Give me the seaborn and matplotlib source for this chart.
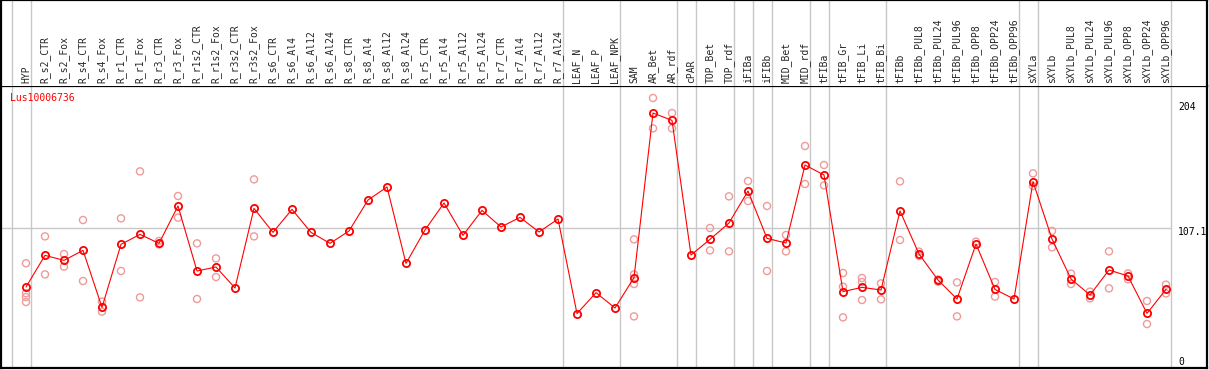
import matplotlib
matplotlib.use("Agg")
import matplotlib.pyplot as plt
import seaborn as sns
import pandas as pd

gene = "Lus10006736"

samples = ["HYP", "R_s2_CTR", "R_s2_Fox", "R_s4_CTR", "R_s4_Fox", "R_r1_CTR", "R_r1_Fox",
           "R_r3_CTR", "R_r3_Fox", "R_r1s2_CTR", "R_r1s2_Fox", "R_r3s2_CTR", "R_r3s2_Fox",
           "R_s6_CTR", "R_s6_Al4", "R_s6_Al12", "R_s6_Al24", "R_s8_CTR", "R_s8_Al4",
           "R_s8_Al12", "R_s8_Al24", "R_r5_CTR", "R_r5_Al4", "R_r5_Al12", "R_r5_Al24",
           "R_r7_CTR", "R_r7_Al4", "R_r7_Al12", "R_r7_Al24", "LEAF_N", "LEAF_P", "LEAF_NPK",
           "SAM", "AR_Bet", "AR_rdf", "cPAR", "TOP_Bet", "TOP_rdf", "iFIBa", "iFIBb",
           "MID_Bet", "MID_rdf", "tFIBa", "tFIB_Gr", "tFIB_Li", "tFIB_Bi", "tFIBb",
           "tFIBb_PUL8", "tFIBb_PUL24", "tFIBb_PUL96", "tFIBb_OPP8", "tFIBb_OPP24",
           "tFIBb_OPP96", "sXYLa", "sXYLb", "sXYLb_PUL8", "sXYLb_PUL24", "sXYLb_PUL96",
           "sXYLb_OPP8", "sXYLb_OPP24", "sXYLb_OPP96"]

# mean expression per sample
means = [60, 85.3, 81.3, 89.3, 43.7, 94.1, 102.1, 94.9, 124.8, 72.8, 76, 59.2, 122.9,
         103.7, 122.1, 103.7, 94.9, 104.8, 129.6, 140, 78.9, 105.6, 127.2, 101.3, 121.3,
         108, 115.7, 104, 114.4, 38.7, 55.5, 43.2,
         67.5, 199.2, 193.3, 85.6, 98.1, 111.2, 136.8, 98.9,
         95.2, 157.6, 149.6, 56.3, 59.7, 57.6, 120.8,
         86.4, 65.6, 50.4, 94.4, 58.1, 50.4,
         144.3, 98.4, 66.4, 53.6, 73.6, 68.8, 38.9, 58.1]

# individual replicates (empty where none visible)
replicates = [[79, 55, 52, 48], [100.5, 70.1], [86.4, 76.3], [113.6, 64.8], [48.3, 40.3],
              [114.9, 72.8], [152.5, 51.7], [96.8, 94], [132.8, 115.5], [94.9, 50.4],
              [82.9, 68], [], [146.1, 100.5],
              [], [], [], [], [], [], [], [], [], [], [], [], [], [], [], [],
              [], [], [],
              [98.1, 70.1, 62.4, 36.5], [211.2, 186.9], [199.2, 186.9], [],
              [107.2, 89.3], [132.5, 88.5], [144.8, 128.8], [124.8, 72.8],
              [101.6, 88.5], [172.8, 142.4], [157.6, 141.3], [71.2, 60.3, 35.7],
              [67.2, 64, 49.6], [62.9, 50.1], [144.5, 97.6],
              [88.3, 84.8], [64.3, 66], [63.7, 36.5], [96.3], [64, 52.3], [],
              [150.9, 140.8], [104.8, 91.7], [70.7, 62.4], [56.3, 50.9], [88.5, 58.9],
              [70.9, 66.1], [48.8, 30.4], [61.9, 54.9]]

# index of the last sample in each group
group_ends = [0, 28, 31, 34, 35, 37, 38, 39, 41, 42, 45, 52, 53, 60]

y_ticks = [0, 107.1, 204]

mean_df = pd.DataFrame({"x": range(len(samples)), "value": means})
rep_df = pd.DataFrame([(i, v) for i, reps in enumerate(replicates) for v in reps],
                      columns=["x", "value"])

sns.set_style("white")
plt.rcParams["font.family"] = ["DejaVu Sans Mono", "DejaVu Sans"]

W, H = 1209, 370
fig = plt.figure(figsize=(W / 100, H / 100), dpi=100)
ax = fig.add_axes([1 / W, (H - 368) / H, 1206 / W, 282 / H])
axh = fig.add_axes([1 / W, (H - 86) / H, 1206 / W, 86 / H])

xmin, xmax = -25 / 19, 1181 / 19
ax.set_xlim(xmin, xmax)
ax.set_ylim(-4.8, 220.8)
axh.set_xlim(xmin, xmax)
axh.set_ylim(0, 1)

grey = "#c8c8c8"
for a in (ax, axh):
    a.set_xticks([])
    a.set_yticks([])
    a.axvline(-1 + 4.5 / 19, color=grey, lw=1, zorder=0)
    for g in group_ends:
        a.axvline(g + 4.5 / 19, color=grey, lw=1, zorder=0)
    for s in a.spines.values():
        s.set_color("black")
        s.set_linewidth(1.6)
axh.spines["bottom"].set_visible(False)

ax.plot([xmin, 60 + 4.5 / 19], [107.1, 107.1], color=grey, lw=1, zorder=0)

sns.scatterplot(data=rep_df, x="x", y="value", ax=ax, marker="o", s=26,
                facecolors="none", edgecolor="#ef9a9a", linewidth=1, zorder=2)
sns.lineplot(data=mean_df, x="x", y="value", ax=ax, color="red", lw=0.8,
             marker="o", ms=5.2, mfc="none", mec="red", mew=1.3, zorder=3)
ax.set_xlabel("")
ax.set_ylabel("")

for t in y_ticks:
    off = -3 if t == 107.1 else 0
    ax.text(60.63, t + off, f"{t:g}", fontsize=7, color="black", va="center", ha="left")

ax.text(9 / 1206, 0.958, gene, transform=ax.transAxes, color="red", fontsize=7,
        va="center", ha="left")

for i, name in enumerate(samples):
    axh.text(i, 3 / 86, name, rotation=90, fontsize=7, ha="center", va="bottom")

fig.savefig("out.png", dpi=100)
